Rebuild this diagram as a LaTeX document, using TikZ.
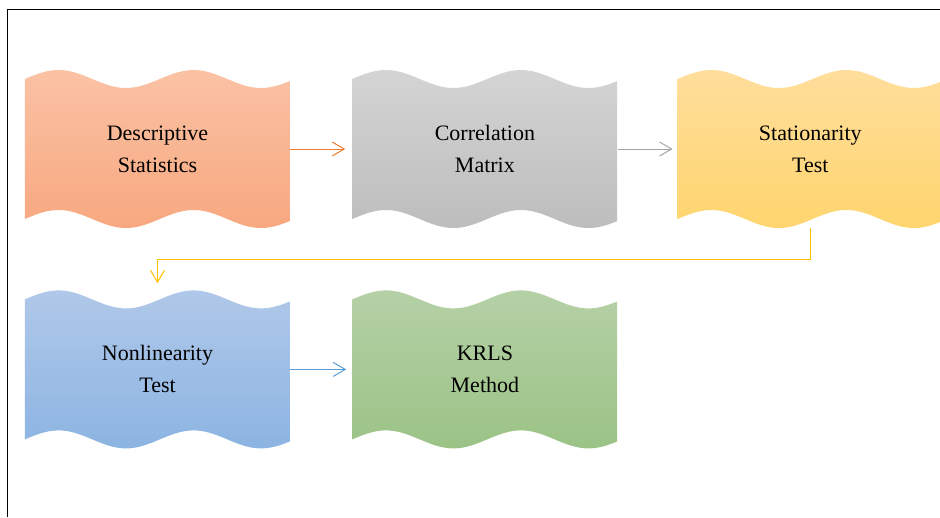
\documentclass[tikz,border=0pt]{standalone}
\usepackage{fontspec}
\setmainfont{Liberation Serif}
\usepackage{tikz}
\usetikzlibrary{arrows.meta, positioning, backgrounds}

\definecolor{descA}{RGB}{250,194,164}
\definecolor{descB}{RGB}{248,168,128}
\definecolor{corrA}{RGB}{212,212,212}
\definecolor{corrB}{RGB}{189,189,189}
\definecolor{statA}{RGB}{255,222,156}
\definecolor{statB}{RGB}{255,213,110}
\definecolor{nonlinA}{RGB}{176,200,233}
\definecolor{nonlinB}{RGB}{140,180,226}
\definecolor{krlsA}{RGB}{181,208,166}
\definecolor{krlsB}{RGB}{155,195,134}
\definecolor{orangeline}{RGB}{237,125,49}
\definecolor{grayline}{RGB}{165,165,165}
\definecolor{yellowline}{RGB}{255,192,0}
\definecolor{blueline}{RGB}{91,155,213}

\begin{document}
\begin{tikzpicture}[
    x=1pt, y=1pt,
    wave/.style={minimum width=265pt, minimum height=140pt, inner sep=0pt, align=center, font=\fontsize{22}{32}\selectfont},
    arrow/.style={line width=1pt, -{Straight Barb[length=12pt, width=14pt]}}
]
\useasboundingbox (0,0) rectangle (940,-517);
\draw[line width=1.3pt] (7.5,-517) -- (7.5,-9.5) -- (940,-9.5);

\node[wave] (desc) at (157.5,-149) {Descriptive\\Statistics};
\node[wave, right=62pt of desc] (corr) {Correlation\\Matrix};
\node[wave, right=60pt of corr] (stat) {Stationarity\\Test};
\node[wave, below=80pt of desc] (nonlin) {Nonlinearity\\Test};
\node[wave, right=62pt of nonlin] (krls) {KRLS\\Method};

% wavy fills behind the labels
\begin{scope}[on background layer]
\foreach \n/\ca/\cb in {desc/descA/descB, corr/corrA/corrB, stat/statA/statB, nonlin/nonlinA/nonlinB, krls/krlsA/krlsB}
  \shade[top color=\ca, bottom color=\cb, shift={(\n.west)}]
    plot[domain=0:265, samples=80, smooth] (\x, {70+9*sin(2.6667*\x)})
    -- plot[domain=265:0, samples=80, smooth] (\x, {-70+9*sin(2.6667*\x)}) -- cycle;
\end{scope}

\draw[arrow, orangeline, shorten >=7pt] (desc) -- (corr);
\draw[arrow, grayline, shorten >=5pt] (corr) -- (stat);
\draw[arrow, yellowline, shorten <=9pt, shorten >=16pt] (stat.south) -- ++(0,-40) -| (nonlin.north);
\draw[arrow, blueline, shorten >=6pt] (nonlin) -- (krls);
\end{tikzpicture}
\end{document}
